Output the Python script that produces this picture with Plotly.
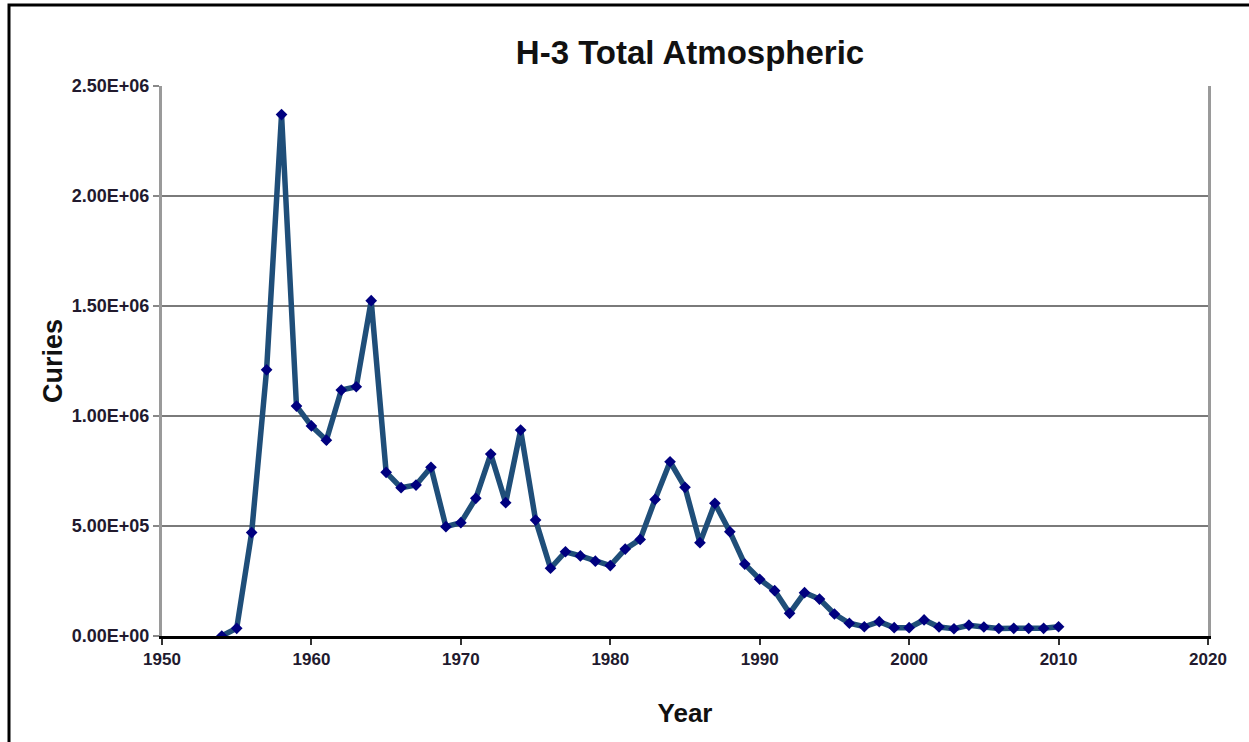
import plotly.graph_objects as go

years = list(range(1954, 2011))
curies = [
    0.0, 3.5e4, 4.7e5, 1.21e6, 2.37e6, 1.045e6, 9.55e5, 8.9e5, 1.118e6, 1.133e6,
    1.524e6, 7.44e5, 6.74e5, 6.86e5, 7.67e5, 4.97e5, 5.15e5, 6.26e5, 8.27e5, 6.06e5,
    9.36e5, 5.27e5, 3.08e5, 3.83e5, 3.64e5, 3.4e5, 3.2e5, 3.95e5, 4.39e5, 6.21e5,
    7.92e5, 6.76e5, 4.24e5, 6.03e5, 4.74e5, 3.27e5, 2.58e5, 2.06e5, 1.03e5, 1.97e5,
    1.68e5, 1.0e5, 5.8e4, 4.2e4, 6.5e4, 3.8e4, 3.8e4, 7.3e4, 4.1e4, 3.3e4,
    4.9e4, 4.1e4, 3.4e4, 3.5e4, 3.5e4, 3.5e4, 4.2e4,
]
x_ticks = [1950, 1960, 1970, 1980, 1990, 2000, 2010, 2020]
y_ticks = [0, 5e5, 1e6, 1.5e6, 2e6, 2.5e6]
y_tick_labels = ["0.00E+00", "5.00E+05", "1.00E+06", "1.50E+06", "2.00E+06", "2.50E+06"]

W, H = 1249, 742
L, R, T, B = 162, 41, 86, 106
pw, ph = W - L - R, H - T - B

fig = go.Figure()
fig.add_trace(go.Scatter(
    x=years, y=curies, mode="lines+markers",
    line=dict(color="#1f4e79", width=5.5),
    marker=dict(symbol="diamond", size=9, color="#00007f"),
    showlegend=False,
))

font_fam = "Liberation Sans, Arial, sans-serif"
tick_col = "#221a2e"

fig.update_layout(
    width=W, height=H,
    margin=dict(l=L, r=R, t=T, b=B),
    paper_bgcolor="white", plot_bgcolor="white",
    title=dict(text="<b>H-3 Total Atmospheric</b>", x=(690 - L) / pw, xref="paper",
               xanchor="center", y=1 - 52 / H, yanchor="middle",
               font=dict(family=font_fam, size=33, color="#111")),
    xaxis=dict(
        range=[1950, 2020], tickvals=x_ticks, ticktext=[f"<b>{v}</b>" for v in x_ticks],
        showgrid=False, zeroline=False,
        showline=True, linecolor="black", linewidth=3,
        ticks="outside", ticklen=6, tickwidth=2, tickcolor="#333",
        tickfont=dict(family=font_fam, size=17, color=tick_col),
        title=dict(text="<b>Year</b>", font=dict(family=font_fam, size=26, color="#111"), standoff=36),
    ),
    yaxis=dict(
        range=[0, 2.5e6], tickvals=y_ticks, ticktext=[f"<b>{t}</b>" for t in y_tick_labels],
        showgrid=True, gridcolor="#7a7a7a", gridwidth=2, zeroline=False,
        showline=True, linecolor="#9a9a9a", linewidth=3, mirror=True,
        ticks="outside", ticklen=6, tickwidth=2, tickcolor="#888",
        tickfont=dict(family=font_fam, size=18, color=tick_col),
        title=dict(text="<b>Curies</b>", font=dict(family=font_fam, size=27, color="#111"), standoff=2),
    ),
    shapes=[
        dict(type="rect", xref="paper", yref="paper",
             x0=(9 - L) / pw, x1=(W + 20 - L) / pw,
             y0=(H - B - (H + 20)) / ph, y1=(H - B - 5) / ph,
             line=dict(color="black", width=3), fillcolor="rgba(0,0,0,0)", layer="below"),
    ],
)

fig.write_html("out.html", config={"displayModeBar": False},
               post_script="document.body.style.margin='0';document.body.style.overflow='hidden';")
